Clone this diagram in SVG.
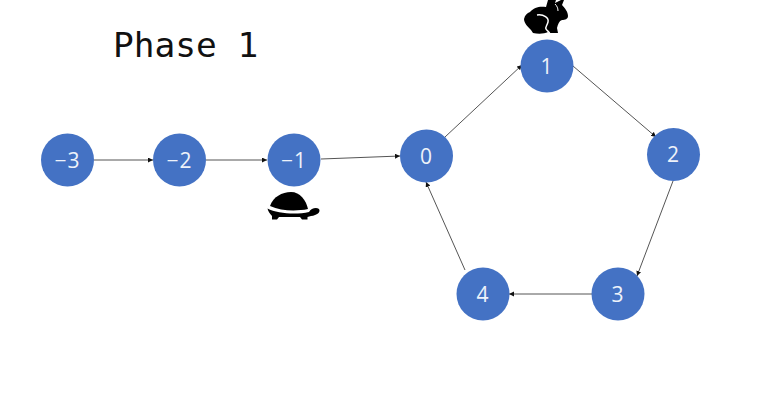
<svg xmlns="http://www.w3.org/2000/svg" width="760" height="420" viewBox="0 0 760 420">
<style>
.n{fill:#4472c4}
.t{fill:#eef2fa;font-family:"Open Sans",sans-serif;font-size:21px;text-anchor:middle;letter-spacing:1px}
.c{stroke:#555;stroke-width:1;fill:none;marker-end:url(#a)}
</style>
<defs><marker id="a" markerUnits="userSpaceOnUse" markerWidth="6" markerHeight="6" refX="5" refY="2.5" orient="auto"><path d="M0 0L5 2.5L0 5z" fill="#111"/></marker></defs>
<rect width="760" height="420" fill="#fff"/>
<text x="113" y="57" font-family="'DejaVu Sans Mono',monospace" font-size="34.5" fill="#111">Phase 1</text>
<g id="connectors">
<path class="c" d="M94 160H153"/>
<path class="c" d="M206 160H267"/>
<path class="c" d="M321 159L400 156"/>
<path class="c" d="M445 137L522 65"/>
<path class="c" d="M573 66L656 137"/>
<path class="c" d="M673 181L637 276"/>
<path class="c" d="M592 294H509"/>
<path class="c" d="M465 270L426 182"/>
</g>
<g id="n-3"><circle class="n" cx="67.500" cy="160" r="26.500"/><text class="t" x="67.500" y="167.500">−3</text></g>
<g id="n-2"><circle class="n" cx="179.500" cy="160" r="26.500"/><text class="t" x="179.500" y="167.500">−2</text></g>
<g id="n-1"><circle class="n" cx="294" cy="160" r="26.500"/><text class="t" x="294" y="167.500">−1</text></g>
<g id="n0"><circle class="n" cx="426.500" cy="156" r="26.500"/><text class="t" x="426.500" y="163.500">0</text></g>
<g id="n1"><circle class="n" cx="547" cy="66" r="26.500"/><text class="t" x="547" y="73.500">1</text></g>
<g id="n2"><circle class="n" cx="673.500" cy="154.500" r="26.500"/><text class="t" x="673.500" y="162">2</text></g>
<g id="n3"><circle class="n" cx="618" cy="294" r="26.500"/><text class="t" x="618" y="301.500">3</text></g>
<g id="n4"><circle class="n" cx="483" cy="294" r="26.500"/><text class="t" x="483" y="301.500">4</text></g>
<g id="turtle">
<path d="M270 206C273 197 282 192 291 192C300 192 306 200 308 209C296 211.500 281 211 270 206Z" fill="#000"/>
<path d="M267.500 208.500C277 213.500 296 215 309 212C311 208.500 316 207 319 209C321 212 317 215.500 311 216L307.500 217V219.500H302L300 217H279L277 219.500H272V216C270 214 268 211 267.500 208.500Z" fill="#000"/>
</g>
<g id="rabbit">
<path d="M524 19C525 15 527 13 530 12C534 7 540 6 546 7L548 0H556L555 3L561 0H564L562 5C565 8 568 12 568 16C568 19 565 20 562 20C559 21 558 24 557 28L558 33H550L548 32C544 34 538 34 533 33L531 30C528 27 524 23 524 19Z" fill="#000"/>
<path d="M537 15C544 14 549 18 548 22C547 26 545 27 546 29C547 31 549 31 550 34" fill="none" stroke="#fff" stroke-width="1.500"/>
<path d="M555 4C557 6 558 8 558 11" fill="none" stroke="#fff" stroke-width="1"/>
</g>
</svg>
